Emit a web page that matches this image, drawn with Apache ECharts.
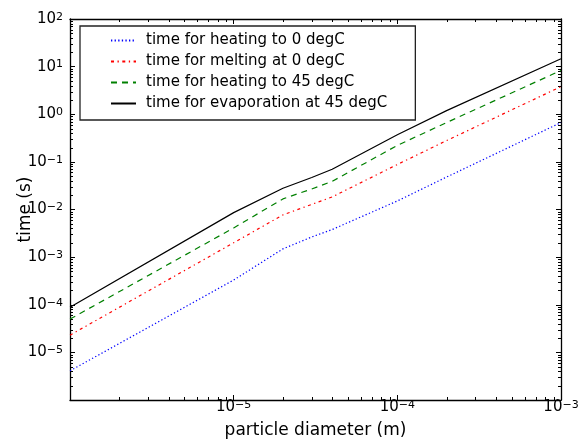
<!DOCTYPE html>
<html>
<head>
<meta charset="utf-8">
<script src="https://cdn.jsdelivr.net/npm/echarts@6/dist/echarts.min.js"></script>
<style>
html,body{margin:0;padding:0;background:#fff;}
#c{width:587px;height:441px;}
</style>
</head>
<body>
<div id="c"></div>
<script>
// ---- data ----
const diameters = [1e-6, 1e-5, 2e-5, 3e-5, 4e-5, 1e-4, 2e-4, 1e-3];
const heatTo0   = [4.1e-6, 3.3e-4, 1.49e-3, 2.65e-3, 3.8e-3, 0.0151, 0.048, 0.67];
const melt0     = [2.3e-5, 2.0e-3, 7.7e-3, 0.0128, 0.0184, 0.088, 0.28, 3.8];
const heatTo45  = [5.0e-5, 4.1e-3, 0.0167, 0.027, 0.039, 0.222, 0.67, 8.3];
const evap45    = [8.9e-5, 8.6e-3, 0.028, 0.047, 0.070, 0.37, 1.19, 14.6];
const seriesNames = [
  'time for heating to 0 degC',
  'time for melting at 0 degC',
  'time for heating to 45 degC',
  'time for evaporation at 45 degC'
];
const xMin = 1e-6, xMax = 1e-3;
const yMin = 1e-6, yMax = 1e2;
const xTitle = 'particle diameter (m)';
const yTitle = 'time (s)';

const FONT = 'DejaVu Sans';
function powLabel(v, hideExp) {
  const e = Math.round(Math.log10(v));
  if (e === hideExp) return '';
  return '{b|10}{s|' + String(e).replace('-', '\u2212') + '}';
}
const richLabel = {
  b: {fontFamily: FONT, fontSize: 15, lineHeight: 15, color: '#000', padding: [4, 0, 4, 0]},
  s: {fontFamily: FONT, fontSize: 11, lineHeight: 11, color: '#000', verticalAlign: 'top'}
};
function pairs(ys) { return diameters.map((d, i) => [d, ys[i]]); }

// minor tick values (2..9 x 10^e)
const minorData = [];
for (let e = -6; e < -3; e++) for (let k = 2; k <= 9; k++) minorData.push([k * Math.pow(10, e), 1, 0]);
for (let e = -6; e < 2; e++) for (let k = 2; k <= 9; k++) minorData.push([1e-5, k * Math.pow(10, e), 1]);

const axisColor = '#000';
const chart = echarts.init(document.getElementById('c'), null, {renderer: 'canvas'});
const baseX = {
  type: 'log', logBase: 10, min: xMin, max: xMax, interval: 1,
  axisLine: {show: true, lineStyle: {color: axisColor, width: 1.3}},
  axisTick: {show: true, inside: true, length: 5, lineStyle: {color: axisColor, width: 1}},
  splitLine: {show: false}
};
const baseY = {
  type: 'log', logBase: 10, min: yMin, max: yMax, interval: 1,
  axisLine: {show: true, lineStyle: {color: axisColor, width: 1.3}},
  axisTick: {show: true, inside: true, length: 5, lineStyle: {color: axisColor, width: 1}},
  splitLine: {show: false}
};
const lineStyles = [
  {color: '#0000ff', type: [1.3, 2.3]},
  {color: '#ff0000', type: [3, 3.5, 1.3, 3.5]},
  {color: '#008000', type: [6, 5]},
  {color: '#000000', type: 'solid'}
];
const dataSets = [heatTo0, melt0, heatTo45, evap45];

const option = {
  animation: false,
  backgroundColor: '#fff',
  textStyle: {fontFamily: FONT},
  grid: {left: 70, right: 26, top: 19, bottom: 41, containLabel: false, outerBoundsMode: 'none'},
  legend: {
    data: seriesNames,
    orient: 'vertical',
    left: 80, top: 26,
    padding: [7, 28, 9, 30],
    itemWidth: 25, itemHeight: 14, itemGap: 6,
    borderColor: '#222', borderWidth: 1.3,
    backgroundColor: '#fff',
    itemStyle: {opacity: 0},
    textStyle: {fontFamily: FONT, fontSize: 15, color: '#000', padding: [0, 0, 0, 5]},
    selectedMode: false
  },
  xAxis: [
    Object.assign({}, baseX, {
      position: 'bottom',
      name: xTitle, nameLocation: 'middle', nameGap: 22, nameMoveOverlap: false,
      nameTextStyle: {fontFamily: FONT, fontSize: 17, color: '#000'},
      axisLabel: {show: true, margin: 0, color: '#000', rich: richLabel,
        formatter: v => powLabel(v, -6)}
    }),
    Object.assign({}, baseX, {position: 'top', axisLabel: {show: false}})
  ],
  yAxis: [
    Object.assign({}, baseY, {
      position: 'left',
      name: yTitle, nameLocation: 'middle', nameGap: 36, nameMoveOverlap: false,
      nameTextStyle: {fontFamily: FONT, fontSize: 17, color: '#000'},
      axisLabel: {show: true, margin: 7, color: '#000', rich: richLabel,
        formatter: v => powLabel(v, -6)}
    }),
    Object.assign({}, baseY, {position: 'right', axisLabel: {show: false}})
  ],
  series: dataSets.map((ys, i) => ({
    name: seriesNames[i],
    type: 'line',
    data: pairs(ys),
    showSymbol: false, symbol: 'none',
    lineStyle: Object.assign({width: 1.2}, lineStyles[i]),
    itemStyle: {color: lineStyles[i].color},
    z: 3
  })).concat([{
    type: 'custom',
    silent: true,
    clip: false,
    data: minorData,
    renderItem: function (params, api) {
      const cs = params.coordSys;
      const kind = api.value(2);
      const st = {stroke: axisColor, lineWidth: 1};
      if (kind === 0) {
        const px = Math.round(api.coord([api.value(0), 1])[0]) + 0.5;
        const b = cs.y + cs.height;
        return {type: 'group', children: [
          {type: 'line', shape: {x1: px, y1: b, x2: px, y2: b - 3}, style: st},
          {type: 'line', shape: {x1: px, y1: cs.y, x2: px, y2: cs.y + 3}, style: st}
        ]};
      } else {
        const py = Math.round(api.coord([1e-5, api.value(1)])[1]) + 0.5;
        const r = cs.x + cs.width;
        return {type: 'group', children: [
          {type: 'line', shape: {x1: cs.x, y1: py, x2: cs.x + 3, y2: py}, style: st},
          {type: 'line', shape: {x1: r, y1: py, x2: r - 3, y2: py}, style: st}
        ]};
      }
    },
    z: 2
  }])
};
chart.setOption(option);
</script>
</body>
</html>
